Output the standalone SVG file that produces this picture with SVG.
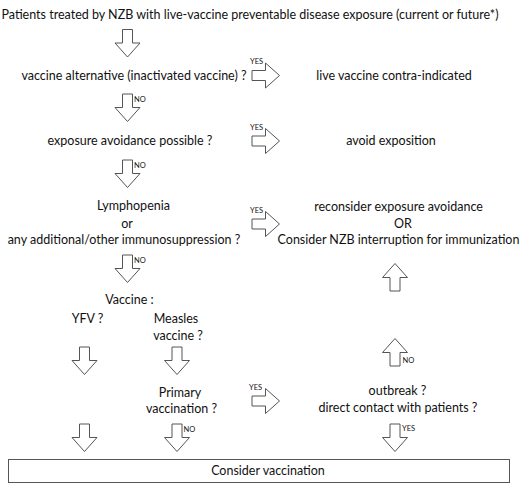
<svg xmlns="http://www.w3.org/2000/svg" width="520" height="489" viewBox="0 0 520 489">
<style>
text{font-family:Lato,"Liberation Sans",sans-serif;font-size:12.5px;fill:#111;text-anchor:middle}
text.lbl{font-size:7.5px;text-anchor:start}
.arr{fill:#fff;stroke:#555;stroke-width:1;stroke-linejoin:miter}
.box{fill:#fff;stroke:#555;stroke-width:1}
</style>
<defs>
<path id="ad" class="arr" d="M-5,0 H5 V13.5 H12.5 L0,27.5 L-12.5,13.5 H-5 Z"/>
</defs>
<rect width="520" height="489" fill="#fff"/>
<g id="connectors">
<use href="#ad" transform="translate(127.5,29.5)"/>
<use href="#ad" transform="translate(127.5,94)"/>
<use href="#ad" transform="translate(127.5,160)"/>
<use href="#ad" transform="translate(127.5,255)"/>
<use href="#ad" transform="translate(84.5,347)"/>
<use href="#ad" transform="translate(177,347)"/>
<use href="#ad" transform="translate(84.5,424)"/>
<use href="#ad" transform="translate(177,424)"/>
<use href="#ad" transform="translate(395,424)"/>
<use href="#ad" transform="translate(252,75.5) rotate(-90)"/>
<use href="#ad" transform="translate(252,141) rotate(-90)"/>
<use href="#ad" transform="translate(252,224) rotate(-90)"/>
<use href="#ad" transform="translate(252,401) rotate(-90)"/>
<use href="#ad" transform="translate(395,291) rotate(180)"/>
<use href="#ad" transform="translate(395,366) rotate(180)"/>
<text class="lbl" x="134" y="102">NO</text>
<text class="lbl" x="134" y="168">NO</text>
<text class="lbl" x="134" y="263">NO</text>
<text class="lbl" x="183.5" y="432">NO</text>
<text class="lbl" x="402.5" y="363">NO</text>
<text class="lbl" x="402" y="431">YES</text>
<text class="lbl" x="250" y="64">YES</text>
<text class="lbl" x="250" y="129.5">YES</text>
<text class="lbl" x="250" y="212.5">YES</text>
<text class="lbl" x="249" y="389.5">YES</text>
</g>
<g id="n-patients"><text x="250" y="19">Patients treated by NZB with live-vaccine preventable disease exposure (current or future*)</text></g>
<g id="n-alternative"><text x="134" y="79.5">vaccine alternative (inactivated vaccine) ?</text></g>
<g id="n-contra"><text x="394" y="79.5">live vaccine contra-indicated</text></g>
<g id="n-avoidance"><text x="130" y="145">exposure avoidance possible ?</text></g>
<g id="n-avoid"><text x="391" y="145">avoid exposition</text></g>
<g id="n-lympho"><text x="133.5" y="210">Lymphopenia</text><text x="127" y="227.5">or</text><text x="124" y="244">any additional/other immunosuppression ?</text></g>
<g id="n-reconsider"><text x="398.5" y="211">reconsider exposure avoidance</text><text x="403" y="227.5">OR</text><text x="398.5" y="244">Consider NZB interruption for immunization</text></g>
<g id="n-vaccine"><text x="129.5" y="304">Vaccine :</text></g>
<g id="n-yfv"><text x="87.5" y="323">YFV ?</text></g>
<g id="n-measles"><text x="176" y="323">Measles</text><text x="178" y="339.5">vaccine ?</text></g>
<g id="n-primary"><text x="180" y="397">Primary</text><text x="181.5" y="413">vaccination ?</text></g>
<g id="n-outbreak"><text x="397.5" y="395">outbreak ?</text><text x="398" y="412">direct contact with patients ?</text></g>
<g id="n-consider"><rect class="box" x="8.5" y="459.5" width="501" height="23"/><text x="268" y="474.5">Consider vaccination</text></g>
</svg>
